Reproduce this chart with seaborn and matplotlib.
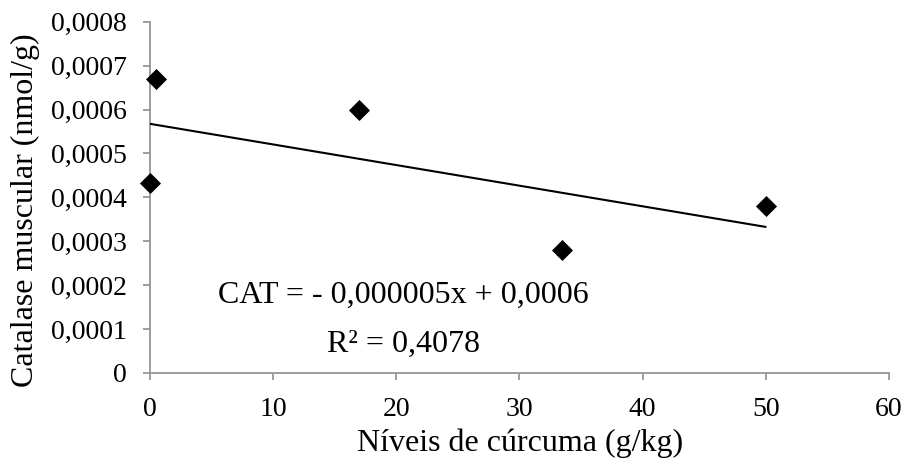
import matplotlib
matplotlib.use("Agg")
import matplotlib.pyplot as plt
import seaborn as sns
import numpy as np
import pandas as pd

# Data
niveis = [0, 0.5, 17, 33.5, 50]
catalase = [0.000433, 0.00067, 0.000599, 0.00028, 0.000381]
x_ticks = [0, 10, 20, 30, 40, 50, 60]
y_ticks = [0, 0.0001, 0.0002, 0.0003, 0.0004, 0.0005, 0.0006, 0.0007, 0.0008]
y_tick_labels = ["0", "0,0001", "0,0002", "0,0003", "0,0004", "0,0005", "0,0006", "0,0007", "0,0008"]
eq_text = "CAT = - 0,000005x + 0,0006"
r2_text = "R² = 0,4078"
x_label = "Níveis de cúrcuma (g/kg)"
y_label = "Catalase muscular (nmol/g)"

df = pd.DataFrame({"x": niveis, "y": catalase})

sns.set_theme(style="white")
plt.rcParams['font.family'] = ['Liberation Serif', 'DejaVu Serif']

fig = plt.figure(figsize=(9.06, 4.67), dpi=100)
ax = fig.add_axes([150/906, 1-373/467, (888.8-150)/906, (373-21.7)/467])

sns.regplot(data=df, x="x", y="y", scatter=False, ci=None, ax=ax,
            line_kws=dict(color="black", lw=1.5))
sns.scatterplot(data=df, x="x", y="y", marker="D", s=115, color="black",
                edgecolor="black", linewidth=0, ax=ax, zorder=3, clip_on=False)

ax.set_xlim(0, 60)
ax.set_ylim(0, 0.0008)
ax.set_xticks(x_ticks)
ax.set_xticklabels([str(t) for t in x_ticks])
ax.set_yticks(y_ticks)
ax.set_yticklabels(y_tick_labels)

spine_col = "#969696"
for s in ["top", "right"]:
    ax.spines[s].set_visible(False)
for s in ["left", "bottom"]:
    ax.spines[s].set_color(spine_col)
    ax.spines[s].set_linewidth(1.3)
    ax.spines[s].set_zorder(1)
ax.tick_params(axis="both", which="major", length=5, width=1.3, color=spine_col,
               direction="out", labelsize=20, labelcolor="black", pad=12)
ax.tick_params(left=True, bottom=True)

ax.set_xlabel(x_label, fontsize=23, color="black")
ax.set_ylabel(y_label, fontsize=23, color="black")
ax.xaxis.set_label_coords((520-150)/738.8, (373-443)/351.3)
ax.xaxis.label.set_va("center")
ax.yaxis.set_label_coords((25-150)/738.8, (373-210)/351.3)
ax.yaxis.label.set_va("center")

ax.text(20.55, 0.000178, eq_text, ha="center", va="center", fontsize=23, color="black")
ax.text(20.55, 0.000066, r2_text, ha="center", va="center", fontsize=23, color="black")

for lab in ax.get_xticklabels() + ax.get_yticklabels():
    lab.set_clip_on(False)

fig.savefig("out.png", dpi=100, facecolor="white")
